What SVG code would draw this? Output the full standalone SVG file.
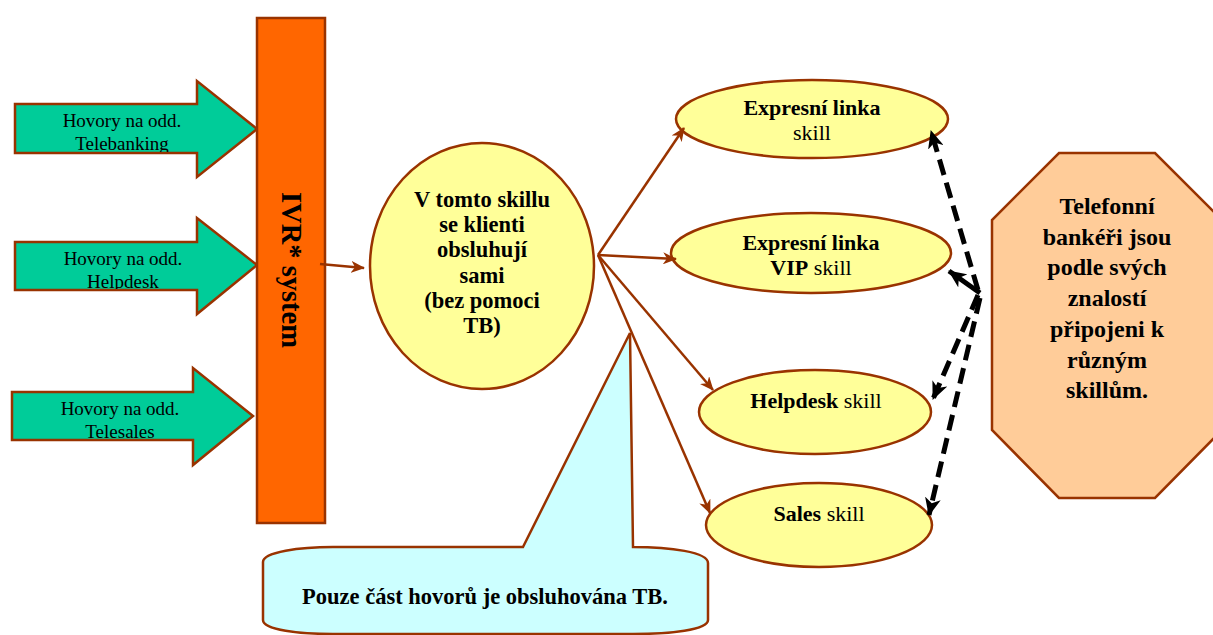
<svg xmlns="http://www.w3.org/2000/svg" width="1213" height="635" viewBox="0 0 1213 635">
<defs>
<style>
.edge{stroke:#993300;stroke-width:2.5;fill:none}
.green{fill:#00CC99;stroke:#993300;stroke-width:2.5}
.yel{fill:#FFFF99;stroke:#993300;stroke-width:2.5}
.t{font-family:"Liberation Serif","Times New Roman",serif;fill:#000;text-anchor:middle}
.b{font-weight:bold}
.dash{stroke:#000;stroke-width:5;fill:none;stroke-dasharray:16,8}
</style>
<marker id="ah" markerUnits="userSpaceOnUse" markerWidth="14" markerHeight="12" viewBox="0 0 14 12" refX="13" refY="6" orient="auto">
<path d="M0,0 L14,6 L0,12 L4,6 Z" fill="#993300"/>
</marker>
<marker id="bh" markerUnits="userSpaceOnUse" markerWidth="18" markerHeight="16" viewBox="0 0 18 16" refX="17" refY="8" orient="auto">
<path d="M0,0 L18,8 L0,16 L5,8 Z" fill="#000"/>
</marker>
<clipPath id="c1"><rect x="15" y="104" width="200" height="48"/></clipPath>
<clipPath id="c2"><rect x="15" y="242" width="200" height="47"/></clipPath>
<clipPath id="c3"><rect x="12" y="392" width="200" height="47"/></clipPath>
</defs>
<rect width="1213" height="635" fill="#fff"/>

<g id="arrow-telebanking">
<polygon class="green" points="15,104 197,104 197,81 257,129 197,177 197,153 15,153"/>
<g clip-path="url(#c1)"><text class="t" x="122" y="127" font-size="19">Hovory na odd.</text><text class="t" x="122" y="150" font-size="19">Telebanking</text></g>
</g>
<g id="arrow-helpdesk">
<polygon class="green" points="15,242 197,242 197,218 257,265 197,314 197,290 15,290"/>
<g clip-path="url(#c2)"><text class="t" x="123" y="265" font-size="19">Hovory na odd.</text><text class="t" x="123" y="288" font-size="19">Helpdesk</text></g>
</g>
<g id="arrow-telesales">
<polygon class="green" points="12,392 193,392 193,368 253,416 193,465 193,440 12,440"/>
<g clip-path="url(#c3)"><text class="t" x="120" y="415" font-size="19">Hovory na odd.</text><text class="t" x="120" y="438" font-size="19">Telesales</text></g>
</g>

<g id="ivr">
<rect x="257" y="18" width="68" height="505" fill="#FF6600" stroke="#993300" stroke-width="2.5"/>
<text class="t b" font-size="28.5" transform="translate(292,270) rotate(90)" y="10">IVR* system</text>
</g>

<g id="callout">
<path d="M523,547 L630,333 L633,547 C670,547 708,552 708,563 L708,620 C708,630 670,634 633,634 L333,634 C300,634 263,630 263,620 L263,562 C263,552 300,547 333,547 Z" fill="#CCFFFF" stroke="#993300" stroke-width="2.5"/>
<text class="t b" x="485" y="604" font-size="22.5">Pouze část hovorů je obsluhována TB.</text>
</g>

<g id="self-service">
<ellipse class="yel" cx="482" cy="266" rx="112" ry="123"/>
<text class="t b" font-size="22.5"><tspan x="482" y="207">V tomto skillu</tspan><tspan x="482" y="232">se klienti</tspan><tspan x="482" y="257">obsluhují</tspan><tspan x="482" y="283">sami</tspan><tspan x="482" y="308">(bez pomoci</tspan><tspan x="482" y="333">TB)</tspan></text>
</g>

<g id="skill-expres">
<ellipse class="yel" cx="812" cy="119" rx="136" ry="39"/>
<text class="t" font-size="22"><tspan class="b" x="812" y="115">Expresní linka</tspan><tspan x="812" y="140">skill</tspan></text>
</g>
<g id="skill-vip">
<ellipse class="yel" cx="811" cy="253" rx="140" ry="40"/>
<text class="t" font-size="22"><tspan class="b" x="811" y="250">Expresní linka</tspan><tspan x="811" y="275"><tspan class="b">VIP</tspan> skill</tspan></text>
</g>
<g id="skill-helpdesk">
<ellipse class="yel" cx="815" cy="412" rx="116" ry="42"/>
<text class="t" font-size="22" x="816" y="408"><tspan class="b">Helpdesk</tspan> skill</text>
</g>
<g id="skill-sales">
<ellipse class="yel" cx="819" cy="525" rx="113" ry="42"/>
<text class="t" font-size="22" x="819" y="521"><tspan class="b">Sales</tspan> skill</text>
</g>

<g id="bankers">
<polygon points="1059,153 1155,153 1222,220 1222,430 1155,498 1059,498 992,430 992,220" fill="#FFCC99" stroke="#993300" stroke-width="2.5"/>
<text class="t b" font-size="24"><tspan x="1107" y="214">Telefonní</tspan><tspan x="1107" y="245">bankéři jsou</tspan><tspan x="1107" y="275">podle svých</tspan><tspan x="1107" y="306">znalostí</tspan><tspan x="1107" y="337">připojeni k</tspan><tspan x="1107" y="368">různým</tspan><tspan x="1107" y="398">skillům.</tspan></text>
</g>

<g id="connectors">
<line class="edge" x1="320" y1="264" x2="364" y2="268" marker-end="url(#ah)"/>
<line class="edge" x1="598" y1="255" x2="684" y2="128" marker-end="url(#ah)"/>
<line class="edge" x1="598" y1="255" x2="676" y2="259" marker-end="url(#ah)"/>
<line class="edge" x1="598" y1="255" x2="713" y2="390" marker-end="url(#ah)"/>
<line class="edge" x1="598" y1="255" x2="710" y2="513" marker-end="url(#ah)"/>
<line class="dash" x1="978" y1="290" x2="931" y2="131" marker-end="url(#bh)"/>
<line x1="980" y1="293" x2="949" y2="271" stroke="#000" stroke-width="5" marker-end="url(#bh)"/>
<line class="dash" x1="978" y1="295" x2="933" y2="399" marker-end="url(#bh)"/>
<line class="dash" x1="980" y1="298" x2="929" y2="515" marker-end="url(#bh)"/>
</g>
</svg>
